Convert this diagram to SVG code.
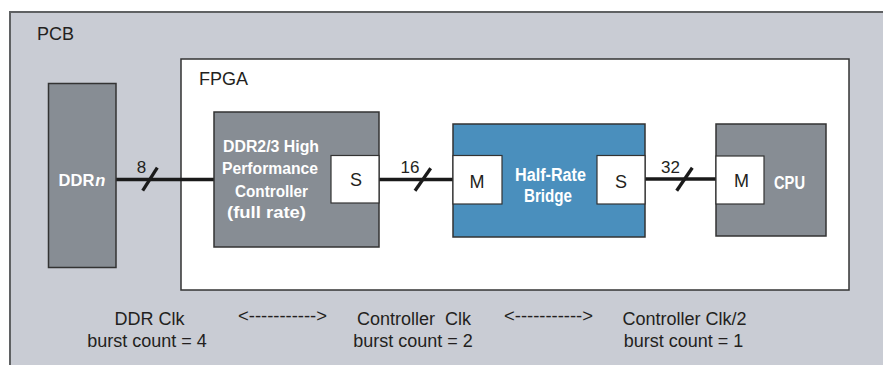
<svg xmlns="http://www.w3.org/2000/svg" width="883" height="365" viewBox="0 0 883 365">
<style>
.pcb{fill:#c9ccd4;stroke:#5f6163;stroke-width:2}
.fpga{fill:#ffffff;stroke:#333;stroke-width:1.5}
.gray{fill:#878d94;stroke:#333;stroke-width:1.5}
.blue{fill:#4a8fbd;stroke:#333;stroke-width:1.5}
.port{fill:#ffffff;stroke:#333;stroke-width:1.2}
.bus{stroke:#1a1a1a;stroke-width:3.3;fill:none}
.t{font-family:"Liberation Sans",Arial,sans-serif;fill:#231f20}
.big{font-size:18px}
.lbl{font-size:17px}
.bold{font-family:"Liberation Sans",Arial,sans-serif;font-weight:bold;fill:#ffffff;font-size:16px}
.mid{text-anchor:middle}
</style>
<rect class="pcb" x="10" y="12" width="890" height="370"/>
<text class="t big" x="37" y="40">PCB</text>
<g id="fpga">
<rect class="fpga" x="181" y="59" width="668" height="231"/>
<text class="t big" x="199" y="85">FPGA</text>
</g>
<g id="connectors">
<line class="bus" x1="116" y1="179.5" x2="214" y2="179.5"/>
<line class="bus" x1="142.7" y1="190.7" x2="157.3" y2="167.7"/>
<text class="t lbl mid" x="141.5" y="173">8</text>
<line class="bus" x1="379" y1="179.5" x2="453" y2="179.5"/>
<line class="bus" x1="415" y1="190.7" x2="430.7" y2="168.3"/>
<text class="t lbl mid" x="410" y="173">16</text>
<line class="bus" x1="645" y1="179" x2="716" y2="179"/>
<line class="bus" x1="676.7" y1="190.7" x2="692.3" y2="167.7"/>
<text class="t lbl mid" x="670.5" y="172.5">32</text>
</g>
<g id="ddrn">
<rect class="gray" x="48.5" y="83.5" width="67.5" height="184"/>
<text class="bold mid" x="82" y="186" style="font-size:16.5px">DDR<tspan dx="1" font-style="italic">n</tspan></text>
</g>
<g id="controller">
<rect class="gray" x="214" y="112" width="165" height="135"/>
<text class="bold mid" x="271" y="152" textLength="96" lengthAdjust="spacingAndGlyphs">DDR2/3 High</text>
<text class="bold mid" x="270" y="174" textLength="96" lengthAdjust="spacingAndGlyphs">Performance</text>
<text class="bold mid" x="271.5" y="196.5" textLength="73" lengthAdjust="spacingAndGlyphs">Controller</text>
<text class="bold mid" x="266.5" y="217.5" textLength="79" lengthAdjust="spacingAndGlyphs">(full rate)</text>
<rect class="port" x="331" y="155.5" width="48" height="47.5"/>
<text class="t big mid" x="356" y="186">S</text>
</g>
<g id="bridge">
<rect class="blue" x="453" y="124" width="192" height="113"/>
<text class="bold mid" x="550.5" y="181" style="font-size:17.5px" textLength="71" lengthAdjust="spacingAndGlyphs">Half-Rate</text>
<text class="bold mid" x="548" y="202" style="font-size:17.5px" textLength="48" lengthAdjust="spacingAndGlyphs">Bridge</text>
<rect class="port" x="453" y="155.5" width="49" height="48.5"/>
<text class="t big mid" x="477" y="188">M</text>
<rect class="port" x="597" y="155.5" width="48" height="48.5"/>
<text class="t big mid" x="621" y="188">S</text>
</g>
<g id="cpu">
<rect class="gray" x="716" y="124" width="110" height="112"/>
<rect class="port" x="716" y="156" width="48" height="48"/>
<text class="t big mid" x="741.5" y="187">M</text>
<text class="bold mid" x="789.5" y="189" style="font-size:17.5px" textLength="31" lengthAdjust="spacingAndGlyphs">CPU</text>
</g>
<g id="clocks">
<text class="t big mid" x="149.5" y="325">DDR Clk</text>
<text class="t big mid" x="147" y="347">burst count = 4</text>
<text class="t big mid" x="282.5" y="322" textLength="89" lengthAdjust="spacingAndGlyphs">&lt;-----------&gt;</text>
<text class="t big mid" x="414" y="325" xml:space="preserve">Controller  Clk</text>
<text class="t big mid" x="413" y="347">burst count = 2</text>
<text class="t big mid" x="548.5" y="322" textLength="89" lengthAdjust="spacingAndGlyphs">&lt;-----------&gt;</text>
<text class="t big mid" x="684.5" y="325">Controller Clk/2</text>
<text class="t big mid" x="683.5" y="347">burst count = 1</text>
</g>
</svg>
